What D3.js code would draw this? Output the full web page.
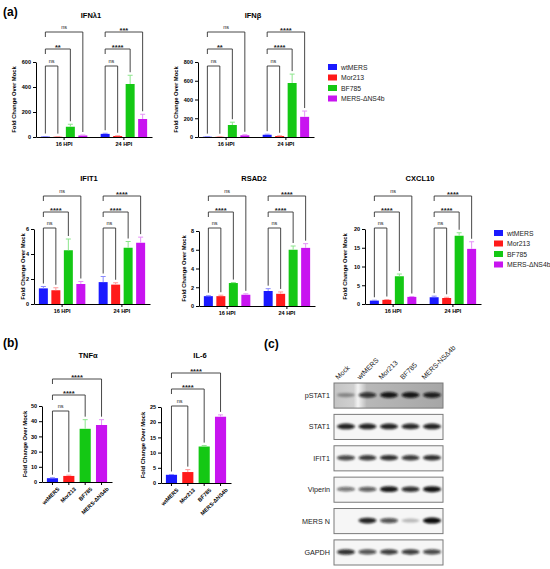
<!DOCTYPE html>
<html>
<head>
<meta charset="utf-8">
<script src="https://cdn.jsdelivr.net/npm/d3@7/dist/d3.min.js"></script>
<style>
body { margin: 0; background: #fff; }
svg { font-family: "Liberation Sans", Arial, sans-serif; }
</style>
</head>
<body>
<svg id="fig" width="550" height="569"></svg>
<script>
// ---- data ----
var groups = ["16 HPI", "24 HPI"];
var viruses = ["wtMERS", "Mor213", "BF785", "MERS-ΔNS4b"];
var colors = ["#1a1aff", "#ff1a1a", "#14c814", "#c814f0"];
var errColors = ["#8c8cff", "#ff9a9a", "#8ce68c", "#e590f8"];

var ifnl1Mean = [[3, 2, 82, 12], [25, 8, 424, 144]];
var ifnl1Err  = [[1, 1, 20, 4], [5, 2, 70, 38]];
var ifnl1Sig  = [["ns", "**", "ns"], ["ns", "****", "***"]];

var ifnbMean = [[3, 2, 128, 18], [24, 10, 576, 215]];
var ifnbErr  = [[1, 1, 30, 6], [6, 3, 95, 62]];
var ifnbSig  = [["ns", "**", "ns"], ["ns", "****", "****"]];

var ifit1Mean = [[1.25, 1.1, 4.3, 1.6], [1.75, 1.55, 4.5, 4.9]];
var ifit1Err  = [[0.15, 0.2, 0.9, 0.2], [0.45, 0.15, 0.5, 0.45]];
var ifit1Sig  = [["ns", "****", "ns"], ["ns", "****", "****"]];

var rsad2Mean = [[1.05, 1.05, 2.45, 1.2], [1.6, 1.3, 6.0, 6.2]];
var rsad2Err  = [[0.05, 0.1, 0.05, 0.1], [0.25, 0.2, 0.4, 0.45]];
var rsad2Sig  = [["ns", "****", "ns"], ["ns", "****", "****"]];

var cxcl10Mean = [[0.9, 1.1, 7.4, 1.9], [1.8, 1.6, 18.2, 14.7]];
var cxcl10Err  = [[0.1, 0.1, 0.6, 0.1], [0.3, 0.2, 0.8, 1.9]];
var cxcl10Sig  = [["ns", "****", "ns"], ["ns", "****", "****"]];

var tnfMean = [2.5, 4.0, 35, 37.5];
var tnfErr  = [0.3, 0.5, 6, 3.5];
var tnfSig  = ["ns", "****", "****"];

var il6Mean = [2.7, 3.6, 12.0, 21.8];
var il6Err  = [0.1, 0.8, 0.3, 0.6];
var il6Sig  = ["ns", "****", "****"];

var lanes = ["Mock", "wtMERS", "Mor213", "BF785", "MERS-NSΔ4b"];
var proteins = ["pSTAT1", "STAT1", "IFIT1", "Viperin", "MERS N", "GAPDH"];
var bandLevels = [
	[0.35, 0.8, 0.95, 0.95, 0.9],
	[0.9, 0.9, 0.9, 0.88, 0.9],
	[0.75, 0.8, 0.85, 0.8, 0.85],
	[0.55, 0.65, 0.95, 0.85, 0.97],
	[0, 0.9, 0.7, 0.25, 1],
	[0.85, 0.7, 0.8, 0.8, 0.75]
];

var svg = d3.select("#fig");

function styleAxis(g) {
	g.selectAll("path, line").attr("stroke", "#000").attr("stroke-width", 1);
	g.selectAll("text").attr("font-size", 5.5).attr("font-weight", "bold").attr("fill", "#000");
}

function bracket(g, xa, xb, yb, yLeft, yRight, label) {
	g.append("path")
		.attr("d", "M" + xa + "," + yLeft + "V" + yb + "H" + xb + "V" + yRight)
		.attr("fill", "none").attr("stroke", "#333").attr("stroke-width", 0.9);
	var ns = label == "ns";
	g.append("text")
		.attr("x", (xa + xb) / 2).attr("y", ns ? yb - 3 : yb + 0.5)
		.attr("text-anchor", "middle")
		.attr("font-size", ns ? 5.5 : 7.5)
		.attr("font-weight", ns ? "normal" : "bold")
		.attr("fill", "#222")
		.text(label);
}

function bars(g, x, y, w, mean, err, i) {
	var top = y(mean), etop = y(mean + err);
	g.append("rect").attr("x", x - w / 2).attr("y", top)
		.attr("width", w).attr("height", y(0) - top).attr("fill", colors[i]);
	g.append("line").attr("x1", x).attr("x2", x).attr("y1", top).attr("y2", etop)
		.attr("stroke", errColors[i]).attr("stroke-width", 1);
	g.append("line").attr("x1", x - 2.5).attr("x2", x + 2.5).attr("y1", etop).attr("y2", etop)
		.attr("stroke", errColors[i]).attr("stroke-width", 1);
}

function yLabel(g, x, y0, y1) {
	g.append("text")
		.attr("transform", "translate(" + x + "," + (y0 + y1) / 2 + ")rotate(-90)")
		.attr("text-anchor", "middle").attr("font-size", 5.8).attr("font-weight", "bold")
		.text("Fold Change Over Mock");
}

function title(x, y, t) {
	svg.append("text").attr("x", x).attr("y", y).attr("text-anchor", "middle")
		.attr("font-size", 7.5).attr("font-weight", "bold").text(t);
}

// grouped chart (16 / 24 HPI)
function grouped(o) {
	var g = svg.append("g");
	var y = d3.scaleLinear().domain([0, d3.max(o.ticks)]).range([o.yb, o.yt]);
	var xg = d3.scaleBand().domain(groups).range([o.x0, o.x0 + 116]).paddingInner(0.06).paddingOuter(0);
	var xv = d3.scaleBand().domain(viruses).range([0, xg.bandwidth()]).paddingInner(0.28).paddingOuter(0.39);

	groups.forEach(function(gr, gi) {
		var cx = function(vi) { return xg(gr) + xv(viruses[vi]) + xv.bandwidth() / 2; };
		viruses.forEach(function(v, vi) {
			bars(g, cx(vi), y, xv.bandwidth(), o.mean[gi][vi], o.err[gi][vi], vi);
		});
		for (var k = 0; k < 3; k++) {
			var yb = o.by[k];
			var yl = k == 0 ? y(o.mean[gi][0] + o.err[gi][0]) - 3 : yb + 5;
			var yr = y(o.mean[gi][k + 1] + o.err[gi][k + 1]) - 3;
			bracket(g, cx(0), cx(k + 1), yb, yl, yr, o.sig[gi][k]);
		}
	});

	g.append("g").attr("transform", "translate(" + o.x0 + ",0)")
		.call(d3.axisLeft(y).tickValues(o.ticks).tickFormat(d3.format("d")).tickSize(3).tickSizeOuter(0).tickPadding(2))
		.call(styleAxis);
	g.append("g").attr("transform", "translate(0," + o.yb + ")")
		.call(d3.axisBottom(xg).tickSize(3).tickSizeOuter(0).tickPadding(2))
		.call(styleAxis);
	yLabel(g, o.ylx, o.yb, o.yt);
	title(o.x0 + 55, o.ty, o.title);
}

// single-timepoint chart
function simple(o) {
	var g = svg.append("g");
	var y = d3.scaleLinear().domain([0, d3.max(o.ticks)]).range([o.yb, o.yt]);
	var x = d3.scaleBand().domain(viruses).range([o.x0, o.x0 + 70]).paddingInner(0.32).paddingOuter(0.3);
	var cx = function(vi) { return x(viruses[vi]) + x.bandwidth() / 2; };
	viruses.forEach(function(v, vi) {
		bars(g, cx(vi), y, x.bandwidth(), o.mean[vi], o.err[vi], vi);
	});
	for (var k = 0; k < 3; k++) {
		var yb = o.by[k];
		var yl = k == 0 ? y(o.mean[0] + o.err[0]) - 3 : yb + 5;
		var yr = y(o.mean[k + 1] + o.err[k + 1]) - 3;
		bracket(g, cx(0), cx(k + 1), yb, yl, yr, o.sig[k]);
	}
	g.append("g").attr("transform", "translate(" + o.x0 + ",0)")
		.call(d3.axisLeft(y).tickValues(o.ticks).tickFormat(d3.format("d")).tickSize(3).tickSizeOuter(0).tickPadding(2))
		.call(styleAxis);
	var xa = g.append("g").attr("transform", "translate(0," + o.yb + ")")
		.call(d3.axisBottom(x).tickSize(3).tickSizeOuter(0).tickPadding(2))
		.call(styleAxis);
	xa.selectAll("text")
		.attr("text-anchor", "end")
		.attr("transform", "translate(2,2)rotate(-45)")
		.attr("dy", "0.5em");
	yLabel(g, o.ylx, o.yb, o.yt);
	title(o.tx, o.ty, o.title);
}

function legend(x, y) {
	var lg = svg.append("g").attr("transform", "translate(" + x + "," + y + ")");
	viruses.forEach(function(v, i) {
		lg.append("rect").attr("x", 0).attr("y", i * 10.5 - 3).attr("width", 9).attr("height", 6).attr("fill", colors[i]);
		lg.append("text").attr("x", 13).attr("y", i * 10.5 + 2.5).attr("font-size", 6.8).attr("fill", "#222").text(v);
	});
}

function panelLabel(x, y, t) {
	svg.append("text").attr("x", x).attr("y", y).attr("font-size", 12).attr("font-weight", "bold").text(t);
}

panelLabel(3, 16, "(a)");
panelLabel(3, 347, "(b)");
panelLabel(264, 348, "(c)");

var topBy = [66, 49, 32], midBy = [228, 212, 196];
grouped({ x0: 36, yb: 137, yt: 62, ticks: [0, 200, 400, 600], mean: ifnl1Mean, err: ifnl1Err, sig: ifnl1Sig, by: topBy, ylx: 16, ty: 18, title: "IFNλ1" });
grouped({ x0: 198, yb: 137, yt: 62, ticks: [0, 200, 400, 600, 800], mean: ifnbMean, err: ifnbErr, sig: ifnbSig, by: topBy, ylx: 178, ty: 18, title: "IFNβ" });
grouped({ x0: 34, yb: 304, yt: 229, ticks: [0, 2, 4, 6], mean: ifit1Mean, err: ifit1Err, sig: ifit1Sig, by: midBy, ylx: 25, ty: 181, title: "IFIT1" });
grouped({ x0: 199, yb: 306, yt: 231, ticks: [0, 2, 4, 6, 8], mean: rsad2Mean, err: rsad2Err, sig: rsad2Sig, by: midBy, ylx: 186, ty: 181, title: "RSAD2" });
grouped({ x0: 365, yb: 304, yt: 229, ticks: [0, 5, 10, 15, 20], mean: cxcl10Mean, err: cxcl10Err, sig: cxcl10Sig, by: midBy, ylx: 347, ty: 181, title: "CXCL10" });
legend(328, 67);
legend(494, 233);

simple({ x0: 42, yb: 482, yt: 406, ticks: [0, 10, 20, 30, 40, 50], mean: tnfMean, err: tnfErr, sig: tnfSig, by: [411, 395, 379], ylx: 27, tx: 88, ty: 358, title: "TNFα" });
simple({ x0: 161, yb: 483, yt: 407, ticks: [0, 5, 10, 15, 20, 25], mean: il6Mean, err: il6Err, sig: il6Sig, by: [406, 389, 373], ylx: 145, tx: 200, ty: 358, title: "IL-6" });

// ---- western blot ----
var defs = svg.append("defs");
defs.append("filter").attr("id", "blur").attr("x", "-30%").attr("y", "-100%").attr("width", "160%").attr("height", "300%")
	.append("feGaussianBlur").attr("stdDeviation", 0.9);
var grad = defs.append("linearGradient").attr("id", "pbg");
grad.append("stop").attr("offset", "0%").attr("stop-color", "#c4c4c4");
grad.append("stop").attr("offset", "18%").attr("stop-color", "#d0d0d0");
grad.append("stop").attr("offset", "22%").attr("stop-color", "#f4f4f4");
grad.append("stop").attr("offset", "30%").attr("stop-color", "#b8b8b8");
grad.append("stop").attr("offset", "100%").attr("stop-color", "#a6a6a6");

var laneX = d3.scaleBand().domain(lanes).range([335, 443]).paddingInner(0.2).paddingOuter(0.11);
var rowY = d3.scaleBand().domain(proteins).range([383, 565]).paddingInner(0.2).paddingOuter(0);
var blot = svg.append("g");

proteins.forEach(function(p, pi) {
	var y0 = rowY(p), h = rowY.bandwidth();
	blot.append("rect").attr("x", 334).attr("y", y0).attr("width", 109).attr("height", h)
		.attr("fill", pi == 0 ? "url(#pbg)" : "#f6f6f6").attr("stroke", "#7a7a7a").attr("stroke-width", 1);
	blot.append("text").attr("x", 330).attr("y", y0 + h / 2 + 2.5).attr("text-anchor", "end")
		.attr("font-size", 7.2).attr("fill", "#222").text(p);
	lanes.forEach(function(l, li) {
		var v = bandLevels[pi][li];
		if (v <= 0) return;
		blot.append("ellipse")
			.attr("cx", laneX(l) + laneX.bandwidth() / 2)
			.attr("cy", y0 + h / 2 - 0.5)
			.attr("rx", laneX.bandwidth() / 2 + 0.5)
			.attr("ry", 1.6 + v * 1.4)
			.attr("fill", "#0d0d0d").attr("fill-opacity", v)
			.attr("filter", "url(#blur)");
	});
});

lanes.forEach(function(l) {
	blot.append("text")
		.attr("transform", "translate(" + (laneX(l) + 1) + ",380)rotate(-45)")
		.attr("font-size", 7).attr("fill", "#222").text(l);
});
</script>
</body>
</html>
